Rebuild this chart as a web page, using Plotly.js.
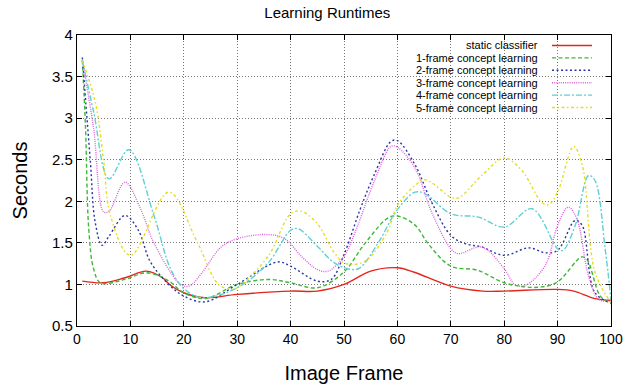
<!DOCTYPE html>
<html>
<head>
<meta charset="utf-8">
<script src="https://cdn.plot.ly/plotly-3.0.1.min.js"></script>
<style>html,body{margin:0;padding:0;background:#fff;}#chart{width:627px;height:385px;}</style>
</head>
<body>
<div id="chart"></div>
<script>
// ---- data ----
const seriesNames = ["static classifier","1-frame concept learning","2-frame concept learning","3-frame concept learning","4-frame concept learning","5-frame concept learning"];

const staticX = [1,5,9,13,16,17.5,20,24,30,40,45,50,55,60,63,70,76,80,90,93,97,100];
const staticY = [1.04,1.02,1.08,1.16,1.08,0.99,0.9,0.84,0.88,0.92,0.92,1.0,1.16,1.2,1.15,0.98,0.92,0.92,0.94,0.92,0.83,0.81];

const f1X = [1,1.6,2.2,3.1,4.4,9,13,17,20,24,30,36,40,45,50,54,59,63,66,70,75,80,84,87,90,94.5,95.5,98,100];
const f1Y = [3.7,2.88,1.67,1.19,1.02,1.06,1.14,1.05,0.9,0.83,1.0,1.06,1.02,0.96,1.15,1.5,1.82,1.73,1.47,1.22,1.17,1.02,0.97,0.97,1.03,1.33,1.3,0.86,0.77];

const f2X = [1,2.5,3.4,4.7,6,9,11.5,13.75,17.5,20,24,30,37.6,40,45,47.6,50,53,55.6,58.8,60,63.3,66.4,70,72.7,75.8,80,84.6,87.7,90,93.3,94.6,97,100];
const f2Y = [3.73,2.48,1.75,1.47,1.58,1.83,1.65,1.27,0.98,0.86,0.79,1.0,1.27,1.22,1.04,1.06,1.36,1.9,2.31,2.72,2.73,2.44,1.99,1.59,1.49,1.45,1.35,1.44,1.38,1.41,1.77,1.71,0.9,0.78];

const f3X = [1,3.1,5,6,9,11.9,14.4,19.4,21,23.4,27,30,35.8,38.9,42,45,47,50,52.5,55.6,58.8,60,63.3,66.4,70,71.4,75.8,80,82,84,87.7,90,92,93.6,95.8,97.7,100];
const f3Y = [3.69,2.88,1.87,1.88,2.23,1.91,1.5,1.0,0.98,1.14,1.45,1.55,1.6,1.55,1.34,1.18,1.16,1.34,1.7,2.23,2.66,2.65,2.4,1.87,1.43,1.37,1.45,1.19,1.0,0.99,1.23,1.71,1.93,1.79,1.1,0.82,0.8];

const f4X = [1,3.1,6,9.7,14.4,17.5,20,23.4,30,35.8,40,41.4,45,48.2,51.4,53,56.4,60,63.3,65.2,70,75.2,80,85.2,90,91,93.3,95.8,97,98.9,100];
const f4Y = [3.7,3.08,2.27,2.62,1.83,1.19,0.95,0.84,0.96,1.26,1.65,1.67,1.46,1.26,1.18,1.2,1.5,1.9,2.11,2.09,1.85,1.81,1.69,1.91,1.43,1.41,1.71,2.31,2.25,1.43,0.82];

const f5X = [1,3.4,5,6.25,10,17.2,22.5,26.5,29,30,35.8,40,42,45,48.2,50,52,54.4,58.1,60,63.3,65.2,70,71.4,75.8,80,83.3,87,88.3,90,93,94.6,97,100];
const f5Y = [3.69,3.2,2.48,1.83,1.35,2.11,1.51,1.0,0.94,0.96,1.34,1.85,1.88,1.73,1.38,1.26,1.24,1.3,1.63,1.95,2.19,2.26,2.05,2.04,2.31,2.52,2.37,1.99,1.96,2.11,2.66,2.44,1.15,0.78];

const xTicks = [0,10,20,30,40,50,60,70,80,90,100];
const yTicks = [0.5,1,1.5,2,2.5,3,3.5,4];
const yTickText = ["0.5","1","1.5","2","2.5","3","3.5","4"];

// ---- styles ----
const colors = ["#e3261c","#3fb935","#2636a6","#dc5fdc","#5fd0d4","#e6dc1e"];
const dashes = ["solid","4px,2.5px","2px,2.5px","1px,1.2px","6px,2px,2px,2px","3px,2.5px,1.5px,2.5px"];
const xs = [staticX,f1X,f2X,f3X,f4X,f5X];
const ys = [staticY,f1Y,f2Y,f3Y,f4Y,f5Y];

const traces = xs.map((x,i)=>({
  x:x, y:ys[i], type:"scatter", mode:"lines", name:seriesNames[i],
  line:{color:colors[i], width:1.4, dash:dashes[i], shape:"spline", smoothing:1.0},
  showlegend:false, hoverinfo:"skip"
}));

// custom gnuplot-style legend (text right, sample on right)
const L = 77, R = 611, T = 35, B = 326;
const px = v => (v - L) / (R - L);
const py = v => (B - v) / (B - T);
const rowY = [45.5,57.9,70.3,82.7,95.1,107.5];
const shapes = [{type:"rect", xref:"paper", yref:"paper", x0:px(340), x1:1, y0:py(111), y1:1,
  fillcolor:"#ffffff", line:{width:0}, layer:"between"}];
const annotations = [];
seriesNames.forEach((n,i)=>{
  annotations.push({text:n, xref:"paper", yref:"paper", x:px(539), y:py(rowY[i]), xanchor:"right", yanchor:"middle",
    borderpad:0, showarrow:false, font:{family:"Liberation Sans, Arial, sans-serif", size:11, color:"#000"}});
  shapes.push({type:"line", xref:"paper", yref:"paper", x0:px(552), x1:px(592), y0:py(rowY[i]), y1:py(rowY[i]),
    line:{color:colors[i], width:1.4, dash:dashes[i]}, layer:"above"});
});

const font = "Liberation Sans, Arial, sans-serif";
const layout = {
  width:627, height:385,
  margin:{l:L, r:627-R, t:T, b:385-B, pad:0},
  paper_bgcolor:"#fff", plot_bgcolor:"#fff",
  font:{family:font, color:"#000"},
  title:{text:"Learning Runtimes", font:{family:font, size:15, color:"#000"}, x:0.522, xref:"container", xanchor:"center", y:0.968, yref:"container", yanchor:"middle"},
  xaxis:{range:[0,100], tickvals:xTicks, ticktext:xTicks.map(String), ticks:"inside", ticklen:5, tickcolor:"#000",
    showline:true, linecolor:"#000", linewidth:1.2, mirror:"ticks", zeroline:false,
    showgrid:true, gridcolor:"#777", griddash:"1px,2px", gridwidth:1,
    tickfont:{family:font, size:14, color:"#000"},
    title:{text:"Image Frame", font:{family:font, size:20, color:"#000"}, standoff:20}, automargin:false},
  yaxis:{range:[0.5,4], tickvals:yTicks, ticktext:yTickText, ticks:"inside", ticklen:5, tickcolor:"#000",
    showline:true, linecolor:"#000", linewidth:1.2, mirror:"ticks", zeroline:false,
    showgrid:true, gridcolor:"#777", griddash:"1px,2px", gridwidth:1,
    tickfont:{family:font, size:15, color:"#000"},
    title:{text:"Seconds", font:{family:font, size:20, color:"#000"}, standoff:19}, automargin:false},
  shapes:shapes, annotations:annotations, showlegend:false
};

Plotly.newPlot("chart", traces, layout, {displayModeBar:false, staticPlot:true});
</script>
</body>
</html>
